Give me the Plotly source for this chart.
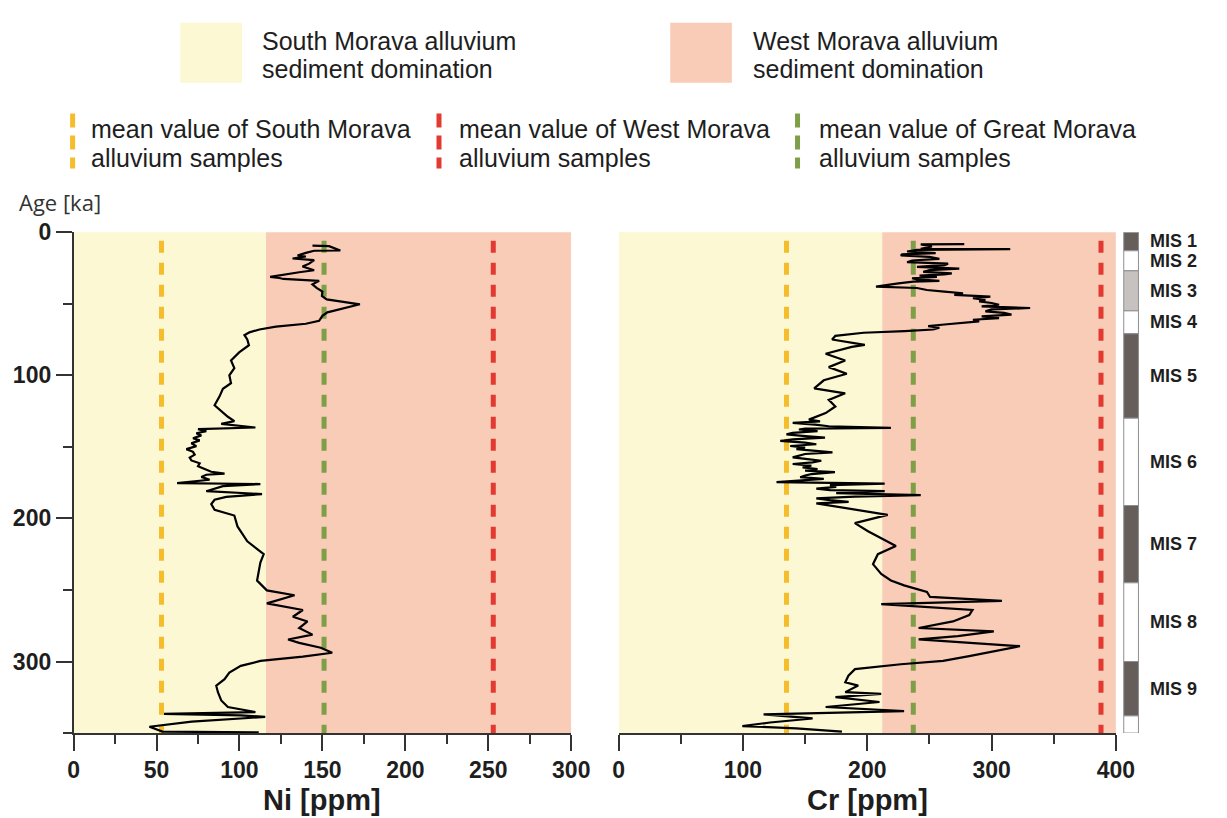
import plotly.graph_objects as go

W, H = 1227, 818

# ---------------- data ----------------
ni_age = [9.4, 9.8, 12.8, 13.0, 14.5, 16.3, 17.0, 18.4, 19.5, 22.0, 24.0, 26.6, 28.0, 31.2, 32.0, 32.7,
          34.0, 36.5, 38.9, 41.5, 44.6, 47.0, 50.4, 54.0, 56.0, 58.5, 62.0, 64.0, 66.0, 68.0, 70.0,
          72.0, 75.0, 79.0, 84.0,
          89.6, 95.0, 100.0, 105.5, 109.4, 114.7, 121.0, 125.0, 129.0, 132.0, 134.0, 136.5, 137.6,
          139.0, 140.5, 142.0, 144.0, 145.5, 147.6, 149.5, 151.6, 153.5, 155.5, 157.5, 159.5, 161.5,
          163.5, 165.5, 167.4, 168.7, 169.5, 171.0, 173.0, 175.3, 176.0, 177.5, 179.0, 181.0, 183.0,
          185.0, 187.0, 190.0, 194.0, 198.0, 205.6, 209.0, 216.0, 225.0, 230.8, 243.4, 250.3, 253.7,
          259.4, 264.0, 268.7, 272.0, 276.6, 281.2, 284.6, 287.0, 290.4, 293.9, 296.6, 299.6, 303.0,
          307.7, 312.3, 316.9, 321.5, 327.2, 331.8, 335.3, 336.6, 337.6, 338.7, 342.0, 345.6, 349.0,
          349.5]
ni_val = [144, 154, 160.8, 145, 140, 135, 140, 132, 145, 142, 138, 145, 136, 118.5, 124, 126.5,
          148, 144, 146.5, 150, 149.7, 152.6, 172.6, 160, 153, 150, 148, 140, 122, 112, 106,
          103, 104.7, 105.7, 99.8,
          94.9, 96.9, 93.9, 94.9, 90, 88, 85, 89, 93, 96.9, 89, 109.6, 75,
          80, 74, 77, 72, 76, 71, 74, 68, 72, 73, 70, 71, 76,
          75, 79, 83, 91, 80, 77, 82, 62.4, 112.6, 90, 85, 80, 113.6,
          92, 85, 83, 85, 96.9, 98.8, 100.8, 104.7, 114.6, 112.6, 110.6, 116.5, 133.2,
          116.5, 138.2, 132.2, 141, 136, 144, 129.3, 136, 149, 155.9, 138.2, 112.6, 100.8,
          93.9, 91, 86, 87, 89, 93, 109.6, 54.5, 100.8, 115.5, 71.2, 45.7, 53.6,
          111.6]

cr_age = [8.3, 8.6, 10.0, 11.7, 11.9, 12.4, 13.5, 14.6, 15.5, 16.3, 17.2, 18.6, 19.8, 21.0, 22.0,
          23.0, 24.2, 25.5, 26.5, 27.8, 28.8, 29.5, 30.4, 31.2, 32.2, 33.0, 34.0, 34.6, 35.8, 37.0,
          38.1, 39.0, 40.4, 41.5, 42.7, 43.8, 45.0, 46.2, 47.4, 48.4, 49.5, 50.7, 51.8, 53.0, 54.0,
          55.3, 56.4, 57.6, 58.8, 60.0, 61.2, 62.3, 63.4, 64.5, 65.7, 66.8, 68.0, 69.2, 70.3,
          72.5, 75.0, 78.8, 80.2, 85.0, 89.7, 94.3, 98.9, 103.5, 109.2, 112.6, 117.2, 121.8, 126.4,
          131.0, 132.2, 133.3, 134.5, 135.6, 136.7, 137.3, 137.9, 139.0, 140.2, 141.3, 142.5, 143.6,
          144.8, 145.9, 147.0, 148.2, 149.4, 150.5, 151.6, 152.8, 153.9, 155.0, 156.2, 157.4, 158.6,
          159.7, 160.8, 162.0, 163.1, 164.3, 165.5, 166.6, 167.7, 169.0, 170.1, 171.2, 172.4, 173.5,
          174.6, 175.7, 176.8, 178.0, 179.2, 180.2, 181.0, 182.4, 183.7, 184.8, 186.0, 187.2, 188.4,
          189.5, 191.2, 193.0, 197.5,
          203.3, 209.0, 219.3, 225.0, 232.0, 238.8, 243.4, 246.8, 251.4, 254.9, 257.6, 259.9, 264.0,
          267.5, 272.0, 276.6, 278.9, 282.3, 284.6, 289.3, 296.2, 299.6, 301.9, 305.3, 309.9, 314.5,
          316.8, 321.4, 322.6, 324.9, 328.3, 331.8, 334.7, 337.0, 339.8, 342.6, 345.1, 346.7, 349.0]
cr_val = [278, 243, 252, 243, 315, 240, 232, 255, 228, 227, 250, 258, 236, 232, 265,
          262, 240, 274, 250, 245, 268, 262, 242, 256, 236, 240, 258, 237, 225, 214,
          207, 240, 248, 262, 277, 270, 299, 285, 295, 290, 300, 306, 292, 331, 300,
          295, 310, 316, 292, 306, 285, 290, 274, 262, 249, 258, 253, 230, 197,
          174.3, 171.7, 198, 187.5, 166.5, 182.2, 169, 183.5, 165, 157.3, 182.2, 169, 174.3, 166.5,
          153, 162, 140, 158, 169, 219, 150, 145, 160, 140, 135, 150, 166,
          140, 130, 150, 159, 138, 150, 143, 160, 172, 150, 145, 140, 152,
          163, 156, 140, 155, 148, 160, 150, 174, 155, 150, 146, 165, 140,
          127, 214, 170, 175, 159, 170, 214, 175, 243, 190, 159, 170, 185,
          159, 172, 185, 216.4,
          190, 200.6, 223, 208.5, 204.6, 211.2, 219, 229.6, 248, 250.5, 308.3, 211.2, 284.6,
          282, 268.9, 241.3, 301.8, 272.8, 241.3, 322.8, 282, 261, 227, 190.1, 184.8, 182.3,
          192.7, 182.3, 211.2, 174.4, 209.8, 166.5, 229.6, 116.6, 156, 121.8, 99.5, 142.8, 179.6]

mean_labels = ["South Morava", "West Morava", "Great Morava"]
ni_means = [53, 253, 151]
cr_means = [135, 388, 237]
mean_colors = ["#F5BC2C", "#E23A30", "#7E9F48"]

ni_boundary, ni_max = 116, 300
cr_boundary, cr_max = 212, 400
age_max = 350
region_labels = ["South Morava", "West Morava"]
region_colors = ["#FBF8D3", "#F9CCB7"]

mis_names = ["MIS 1", "MIS 2", "MIS 3", "MIS 4", "MIS 5", "MIS 6", "MIS 7", "MIS 8", "MIS 9", ""]
mis_bounds = [0, 13, 27, 55, 71, 130, 191, 245, 300, 338, 350]
mis_colors = ["#655E5B", "#FFFFFF", "#C7C2BF", "#FFFFFF", "#655E5B", "#FFFFFF",
              "#655E5B", "#FFFFFF", "#655E5B", "#FFFFFF"]

# ---------------- helpers (page pixel -> paper) ----------------
def px(x):
    return x / W

def py(y):
    return 1 - y / H

TXT = "#1E1E1E"
FONT = "Liberation Sans, Arial, sans-serif"
fig = go.Figure()

# mean lines
for i in range(3):
    fig.add_trace(go.Scatter(x=[ni_means[i]] * 2, y=[6, age_max], mode="lines",
                             line=dict(color=mean_colors[i], width=5, dash="12px,10px"),
                             xaxis="x", yaxis="y", showlegend=False, hoverinfo="skip"))
    fig.add_trace(go.Scatter(x=[cr_means[i]] * 2, y=[6, age_max], mode="lines",
                             line=dict(color=mean_colors[i], width=5, dash="12px,10px"),
                             xaxis="x2", yaxis="y2", showlegend=False, hoverinfo="skip"))

# data curves
fig.add_trace(go.Scatter(x=ni_val, y=ni_age, mode="lines", line=dict(color="black", width=2.2),
                         xaxis="x", yaxis="y", showlegend=False, name="Ni"))
fig.add_trace(go.Scatter(x=cr_val, y=cr_age, mode="lines", line=dict(color="black", width=2.2),
                         xaxis="x2", yaxis="y2", showlegend=False, name="Cr"))

shapes = []
# background regions
for xr, yr, b, m in (("x", "y domain", ni_boundary, ni_max), ("x2", "y2 domain", cr_boundary, cr_max)):
    shapes.append(dict(type="rect", xref=xr, yref=yr, x0=0, x1=b, y0=0, y1=1,
                       fillcolor=region_colors[0], line_width=0, layer="below"))
    shapes.append(dict(type="rect", xref=xr, yref=yr, x0=b, x1=m, y0=0, y1=1,
                       fillcolor=region_colors[1], line_width=0, layer="below"))

# MIS bar
for i in range(len(mis_colors)):
    shapes.append(dict(type="rect", xref="paper", yref="y", x0=px(1141), x1=px(1156),
                       y0=mis_bounds[i], y1=mis_bounds[i + 1], fillcolor=mis_colors[i],
                       line=dict(color="#8E8E8E", width=1)))

# legend squares
for cx, col in ((178, region_colors[0]), (678, region_colors[1])):
    shapes.append(dict(type="rect", xref="paper", yref="paper", x0=px(cx), x1=px(cx + 63),
                       y0=py(71), y1=py(10), fillcolor=col, line_width=0))
# legend dashed markers
for mx, col in zip((68, 442, 808), mean_colors):
    shapes.append(dict(type="line", xref="paper", yref="paper", x0=px(mx), x1=px(mx),
                       y0=py(102), y1=py(158), line=dict(color=col, width=5, dash="14px,8px")))

ann = []
# region legend texts
for tx, name in ((259, region_labels[0]), (760, region_labels[1])):
    ann.append(dict(x=px(tx), y=py(28), xref="paper", yref="paper", xanchor="left", yanchor="middle",
                    text=f"{name} alluvium", showarrow=False,
                    font=dict(family=FONT, size=25, color=TXT)))
    ann.append(dict(x=px(tx), y=py(57), xref="paper", yref="paper", xanchor="left", yanchor="middle",
                    text="sediment domination", showarrow=False,
                    font=dict(family=FONT, size=25, color=TXT)))
# mean legend texts
for tx, name in zip((85, 460, 828), mean_labels):
    ann.append(dict(x=px(tx), y=py(118), xref="paper", yref="paper", xanchor="left", yanchor="middle",
                    text=f"mean value of {name}", showarrow=False,
                    font=dict(family=FONT, size=25, color=TXT)))
    ann.append(dict(x=px(tx), y=py(147), xref="paper", yref="paper", xanchor="left", yanchor="middle",
                    text="alluvium samples", showarrow=False,
                    font=dict(family=FONT, size=25, color=TXT)))
# Age label
ann.append(dict(x=px(11), y=py(192), xref="paper", yref="paper", xanchor="left", yanchor="middle",
                text="Age [ka]", showarrow=False,
                font=dict(family="Open Sans, Liberation Sans", size=22, color="#333333")))
# axis titles
ann.append(dict(x=0.5, y=py(800), xref="x domain", yref="paper", xanchor="center", yanchor="middle",
                text="Ni [ppm]", showarrow=False,
                font=dict(family=FONT, size=29, color=TXT, weight="bold")))
ann.append(dict(x=0.5, y=py(800), xref="x2 domain", yref="paper", xanchor="center", yanchor="middle",
                text="Cr [ppm]", showarrow=False,
                font=dict(family=FONT, size=29, color=TXT, weight="bold")))
# MIS labels
for i, name in enumerate(mis_names):
    if name:
        ann.append(dict(x=px(1166), y=(mis_bounds[i] + mis_bounds[i + 1]) / 2, xref="paper", yref="y",
                        xanchor="left", yanchor="middle", text=name, showarrow=False,
                        font=dict(family=FONT, size=18, color=TXT, weight="bold")))

tickfont = dict(family=FONT, size=23, color=TXT, weight="bold")
ydom = [py(731.7), py(222.7)]
axis_common = dict(showgrid=False, zeroline=False, showline=True, linecolor="#333", linewidth=1.5,
                   ticks="outside", ticklen=16, tickwidth=1.5, tickcolor="#333", tickfont=tickfont)
minor_common = dict(ticks="outside", ticklen=9, tickwidth=1.5, tickcolor="#333")

fig.update_layout(
    width=W, height=H, margin=dict(l=0, r=0, t=0, b=0),
    paper_bgcolor="white", plot_bgcolor="rgba(0,0,0,0)",
    shapes=shapes, annotations=ann, showlegend=False,
    xaxis=dict(domain=[px(69), px(577)], range=[0, ni_max], anchor="y",
               tickmode="linear", tick0=0, dtick=50,
               minor=dict(dtick=25, tick0=0, **minor_common), **axis_common),
    yaxis=dict(domain=ydom, range=[age_max, 0], anchor="x",
               tickmode="linear", tick0=0, dtick=100,
               minor=dict(dtick=50, tick0=0, **minor_common), **axis_common),
    xaxis2=dict(domain=[px(625.4), px(1133)], range=[0, cr_max], anchor="y2",
                tickmode="linear", tick0=0, dtick=100,
                minor=dict(dtick=50, tick0=0, **minor_common), **axis_common),
    yaxis2=dict(domain=ydom, range=[age_max, 0], anchor="x2",
                showgrid=False, zeroline=False, showline=False, showticklabels=False, ticks=""),
)

# place the figure flush with the page corner (remove the default body margin), no toolbar
fig.write_html("out.html", config={"displayModeBar": False},
               post_script="document.body.style.margin='0';document.body.style.overflow='hidden';")
